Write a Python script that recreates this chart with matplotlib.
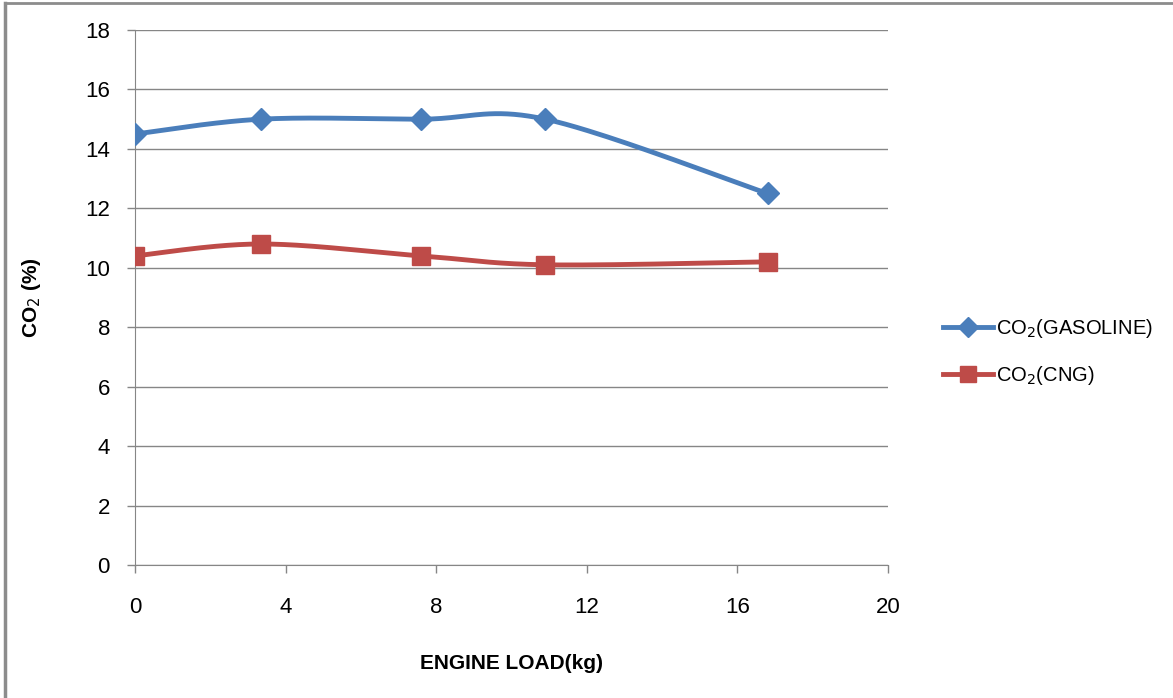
import numpy as np
import matplotlib
matplotlib.use("Agg")
import matplotlib.pyplot as plt
from matplotlib.lines import Line2D

# data
engine_load = [0.0, 3.35, 7.6, 10.9, 16.8]
co2_gasoline = [14.5, 15.0, 15.0, 15.0, 12.5]
co2_cng = [10.4, 10.8, 10.4, 10.1, 10.2]

x_ticks = [0, 4, 8, 12, 16, 20]
y_ticks = [0, 2, 4, 6, 8, 10, 12, 14, 16, 18]

blue = "#4A7EBB"
red = "#BE4B48"
grid_col = "#868686"


def smooth(xs, ys, n=40):
    # Excel-like smoothed line: cubic Bezier with tangents (P[i+1]-P[i-1])/6
    p = np.column_stack([xs, ys]).astype(float)
    out = []
    for i in range(len(p) - 1):
        p0 = p[i - 1] if i > 0 else p[i]
        p3 = p[i + 2] if i + 2 < len(p) else p[i + 1]
        c1 = p[i] + (p[i + 1] - p0) / 6
        c2 = p[i + 1] - (p3 - p[i]) / 6
        t = np.linspace(0, 1, n)[:, None]
        seg = ((1 - t) ** 3) * p[i] + 3 * ((1 - t) ** 2) * t * c1 \
            + 3 * (1 - t) * t ** 2 * c2 + t ** 3 * p[i + 1]
        out.append(seg)
    out = np.vstack(out)
    return out[:, 0], out[:, 1]


plt.rcParams['font.family'] = ['Liberation Sans', 'DejaVu Sans']

fig = plt.figure(figsize=(11.73, 6.98), dpi=100)
ax = fig.add_axes([135 / 1173, 1 - 565 / 698, (888 - 135) / 1173, (565 - 30) / 698])

# outer frame (left and top edges visible)
fig.add_artist(Line2D([5 / 1173, 5 / 1173], [0, 1 - 3 / 698], color="#8C8C8C", lw=2.5))
fig.add_artist(Line2D([5 / 1173, 1], [1 - 3 / 698, 1 - 3 / 698], color="#8C8C8C", lw=2))

sx, sy = smooth(engine_load, co2_gasoline)
ax.plot(sx, sy, color=blue, lw=3.5, solid_capstyle="round", zorder=3)
ax.plot(engine_load, co2_gasoline, ls="none", marker="D", ms=11, color=blue, zorder=4)

sx, sy = smooth(engine_load, co2_cng)
ax.plot(sx, sy, color=red, lw=3.5, solid_capstyle="round", zorder=3)
ax.plot(engine_load, co2_cng, ls="none", marker="s", ms=13, color=red, zorder=4)

ax.set_xlim(0, 20)
ax.set_ylim(0, 18)
ax.set_xticks(x_ticks)
ax.set_yticks(y_ticks)
ax.yaxis.grid(True, color=grid_col, lw=1)
ax.set_axisbelow(True)
for s in ["top", "right"]:
    ax.spines[s].set_visible(False)
for s in ["left", "bottom"]:
    ax.spines[s].set_color(grid_col)
ax.tick_params(axis="both", colors=grid_col, length=6, width=1, labelcolor="black", labelsize=16)
ax.tick_params(axis="y", pad=12)
ax.tick_params(axis="x", pad=17)

ax.set_xlabel("ENGINE LOAD(kg)", fontsize=15, fontweight="bold", labelpad=26)
ax.set_ylabel("CO$_2$ (%)", fontsize=15, fontweight="bold", labelpad=30)

handles = [
    Line2D([], [], color=blue, lw=3.5, marker="D", ms=10),
    Line2D([], [], color=red, lw=3.5, marker="s", ms=12),
]
fig.legend(handles, ["CO$_2$(GASOLINE)", "CO$_2$(CNG)"], loc="center left",
           bbox_to_anchor=(925 / 1173, 1 - 352 / 698), frameon=False, fontsize=14.5,
           handlelength=2.5, handletextpad=0.15, labelspacing=1.2)

fig.savefig("out.png", dpi=100, facecolor="white")
